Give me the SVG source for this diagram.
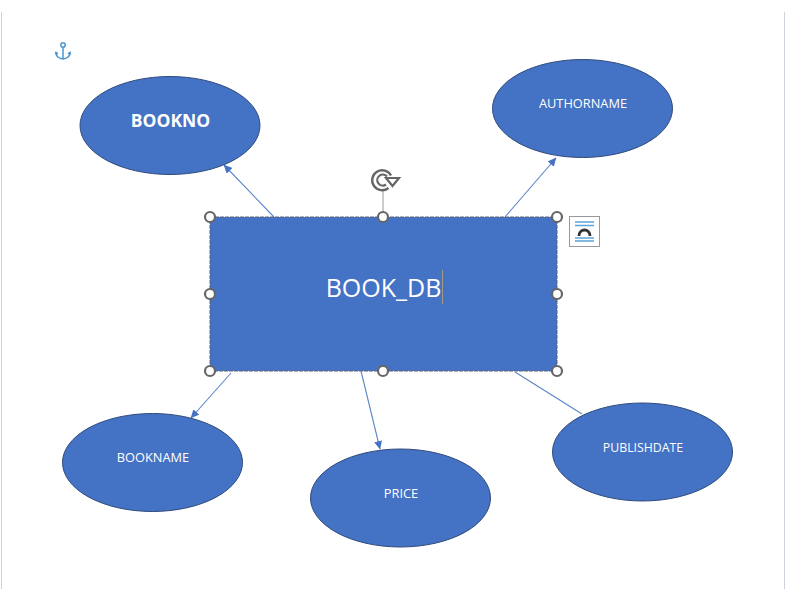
<svg xmlns="http://www.w3.org/2000/svg" width="785" height="589" viewBox="0 0 785 589">
<style>
.node{fill:#4472c4;stroke:#2f4b7c;stroke-width:1}
.lbl{fill:#fff;font-family:"Open Sans","Noto Sans","Liberation Sans",sans-serif;text-anchor:middle}
.conn{fill:none;stroke:#5b84c8;stroke-width:1.1}
.arrowed{marker-end:url(#arr)}
.handle{fill:#fff;stroke:#666;stroke-width:2.200}
</style>
<defs>
<marker id="arr" markerUnits="userSpaceOnUse" markerWidth="9" markerHeight="8" refX="8" refY="4" orient="auto">
<path d="M0 0L8.500 4L0 8Z" fill="#4472c4"/>
</marker>
</defs>
<rect width="785" height="589" fill="#fff"/>
<g id="page-edges" stroke="#cdd3dc" stroke-width="1">
<line x1="1.500" y1="12" x2="1.500" y2="589"/>
<line x1="784.500" y1="12" x2="784.500" y2="589"/>
</g>
<g id="anchor" fill="none" stroke="#4a96d2" stroke-width="1.500">
<circle cx="63" cy="45" r="2.200"/>
<path d="M63 47.500V59M56 52.500C56 61 70 61 70 52.500M55.500 54.500L56 52.300L58 54M70.500 54.500L70 52.300L68 54"/>
</g>
<g id="connectors">
<line class="conn arrowed" x1="274" y1="217" x2="224" y2="165"/>
<line class="conn arrowed" x1="505" y1="217" x2="556" y2="158"/>
<line class="conn arrowed" x1="231" y1="373" x2="191" y2="418"/>
<line class="conn arrowed" x1="361" y1="371" x2="380" y2="449"/>
<line class="conn" x1="515" y1="372" x2="582" y2="414"/>
</g>
<g id="bookno">
<ellipse class="node" cx="170" cy="125.500" rx="90" ry="49"/>
<text class="lbl" x="170.500" y="126.500" font-size="17.500" font-weight="700">BOOKNO</text>
</g>
<g id="authorname">
<ellipse class="node" cx="582.500" cy="108.500" rx="90" ry="49"/>
<text class="lbl" x="583" y="108" font-size="12.800">AUTHORNAME</text>
</g>
<g id="bookname">
<ellipse class="node" cx="152.500" cy="462.500" rx="90" ry="49"/>
<text class="lbl" x="153" y="462" font-size="12.800">BOOKNAME</text>
</g>
<g id="price">
<ellipse class="node" cx="400.500" cy="498" rx="90" ry="49"/>
<text class="lbl" x="401" y="498" font-size="12.800">PRICE</text>
</g>
<g id="publishdate">
<ellipse class="node" cx="642.500" cy="452" rx="90" ry="49"/>
<text class="lbl" x="643" y="452" font-size="12.300">PUBLISHDATE</text>
</g>
<g id="book_db">
<rect x="210" y="217" width="347" height="154" fill="#4472c4"/>
<rect x="210" y="217" width="347" height="154" fill="none" stroke="#5a6478" stroke-width="1" stroke-dasharray="4 1"/>
<text class="lbl" x="383.500" y="297" font-size="25" font-weight="500">BOOK_DB</text>
<line x1="442.500" y1="270" x2="442.500" y2="304" stroke="#a09a80" stroke-width="1"/>
</g>
<g id="rotate-handle">
<line x1="383" y1="190" x2="383" y2="217" stroke="#aaa" stroke-width="1.200"/>
<path d="M391 175.500A10 10 0 1 0 388.500 188" fill="none" stroke="#666" stroke-width="2.400"/>
<path d="M387 176.500A5.500 5.500 0 1 0 386 184.500" fill="none" stroke="#666" stroke-width="2.200"/>
<path d="M386 178H399L392.500 186Z" fill="#fff" stroke="#666" stroke-width="2.200"/>
</g>
<g id="handles">
<circle class="handle" cx="210" cy="217" r="5"/>
<circle class="handle" cx="383" cy="217" r="5"/>
<circle class="handle" cx="557" cy="217" r="5"/>
<circle class="handle" cx="210" cy="294" r="5"/>
<circle class="handle" cx="557" cy="294" r="5"/>
<circle class="handle" cx="210" cy="371" r="5"/>
<circle class="handle" cx="383" cy="371" r="5"/>
<circle class="handle" cx="557" cy="371" r="5"/>
</g>
<g id="layout-options">
<rect x="569.500" y="216.500" width="30" height="30" fill="#fff" stroke="#999" stroke-width="1"/>
<path d="M575 222H594M575 225.500H594M575 238H594M575 241H594" stroke="#5aa5d6" stroke-width="1.300"/>
<path d="M579 236C579 228 590 228 590 236" fill="none" stroke="#333" stroke-width="2.800"/>
</g>
</svg>
